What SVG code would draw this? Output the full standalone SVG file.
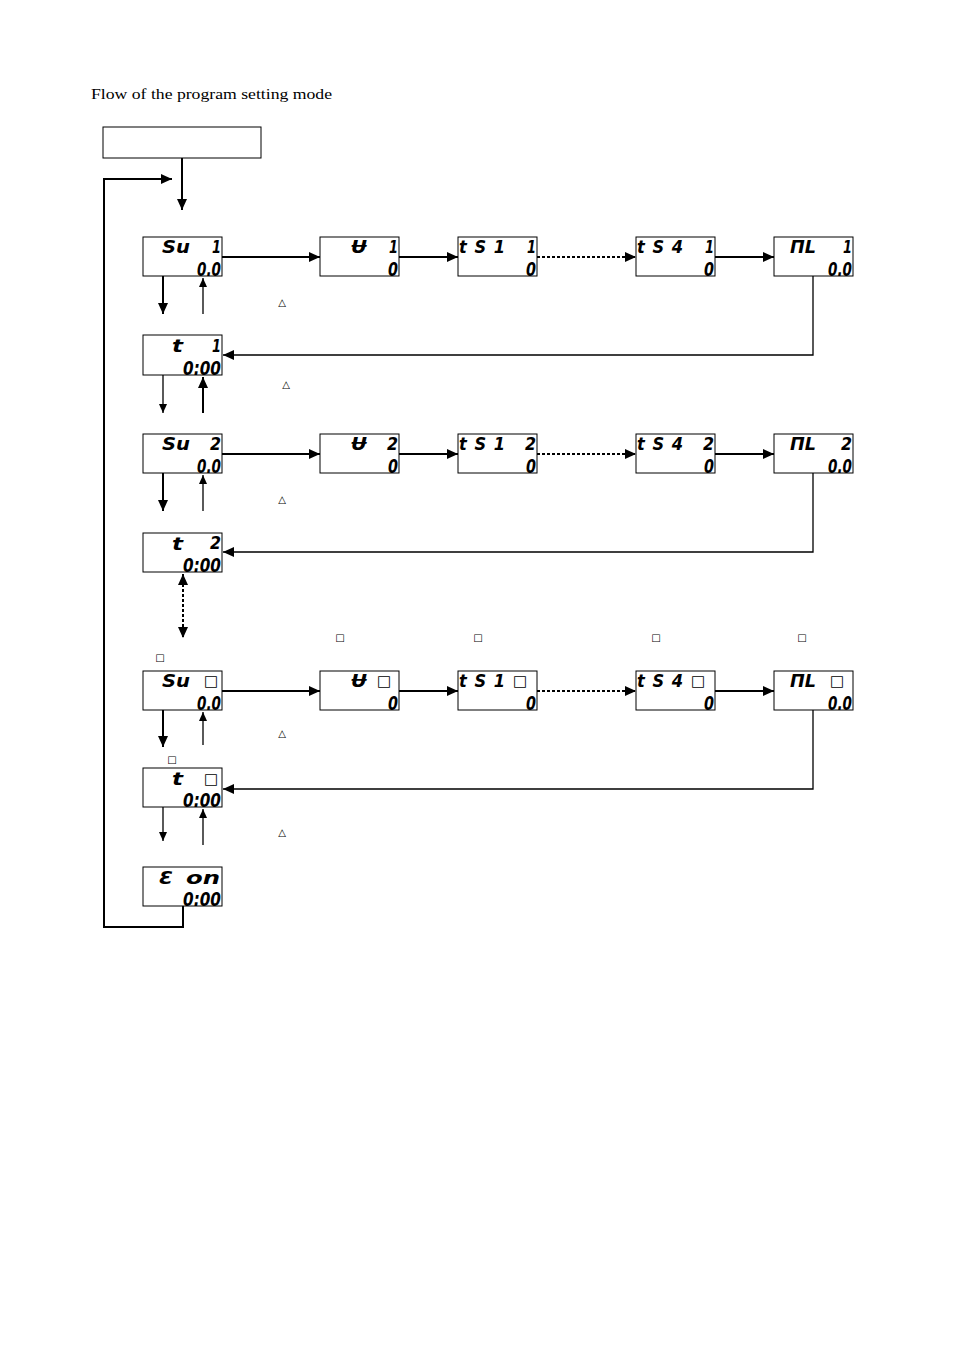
<svg xmlns="http://www.w3.org/2000/svg" width="954" height="1350" viewBox="0 0 954 1350">
<style>
.bx{fill:#fff;stroke:#000;stroke-width:1}
.ln{fill:none;stroke:#000;stroke-width:2}
.thin{fill:none;stroke:#000;stroke-width:1.3}
.dot{fill:none;stroke:#000;stroke-width:2;stroke-dasharray:3 2}
.lcd{font-family:"DejaVu Sans Condensed","DejaVu Sans",sans-serif;font-weight:bold;font-style:oblique;font-size:18px;fill:#000}
.b{font-size:20px}
.sq{font-family:"DejaVu Sans",sans-serif;font-size:15px;font-style:normal;font-weight:normal}
.sym{font-family:"DejaVu Sans",sans-serif;font-size:10px;fill:#000;text-anchor:middle}
.title{font-family:"Liberation Serif",serif;font-size:14px;fill:#000}
</style>
<defs>
<marker id="ah" markerUnits="userSpaceOnUse" markerWidth="12" markerHeight="10" refX="11" refY="5" orient="auto"><path d="M0,0 L11,5 L0,10 Z" fill="#000"/></marker>
<marker id="ahs" markerUnits="userSpaceOnUse" markerWidth="10" markerHeight="8" refX="9" refY="4" orient="auto"><path d="M0,0 L9,4 L0,8 Z" fill="#000"/></marker>
<marker id="ahstart" markerUnits="userSpaceOnUse" markerWidth="12" markerHeight="10" refX="0" refY="5" orient="auto"><path d="M11,0 L0,5 L11,10 Z" fill="#000"/></marker>
</defs>
<rect width="954" height="1350" fill="#fff"/>
<text class="title" x="91" y="99" textLength="241" lengthAdjust="spacingAndGlyphs">Flow of the program setting mode</text>

<g id="connectors">
<line class="ln" x1="182" y1="158" x2="182" y2="210" marker-end="url(#ah)"/>
<polyline class="ln" points="183,906 183,927 104,927 104,179 172,179" marker-end="url(#ah)"/>
<line class="ln" x1="222" y1="257" x2="320" y2="257" marker-end="url(#ah)"/>
<line class="ln" x1="399" y1="257" x2="458" y2="257" marker-end="url(#ah)"/>
<line class="dot" x1="537" y1="257" x2="636" y2="257" marker-end="url(#ah)"/>
<line class="ln" x1="715" y1="257" x2="774" y2="257" marker-end="url(#ah)"/>
<polyline class="thin" points="813,276 813,355 223,355" marker-end="url(#ah)"/>
<line class="ln" x1="163" y1="276" x2="163" y2="314" marker-end="url(#ah)"/>
<line class="thin" x1="203" y1="314" x2="203" y2="278" marker-end="url(#ahs)"/>
<line class="thin" x1="163" y1="375" x2="163" y2="413" marker-end="url(#ahs)"/>
<line class="ln" x1="203" y1="413" x2="203" y2="377" marker-end="url(#ah)"/>
<line class="ln" x1="222" y1="454" x2="320" y2="454" marker-end="url(#ah)"/>
<line class="ln" x1="399" y1="454" x2="458" y2="454" marker-end="url(#ah)"/>
<line class="dot" x1="537" y1="454" x2="636" y2="454" marker-end="url(#ah)"/>
<line class="ln" x1="715" y1="454" x2="774" y2="454" marker-end="url(#ah)"/>
<polyline class="thin" points="813,473 813,552 223,552" marker-end="url(#ah)"/>
<line class="ln" x1="163" y1="473" x2="163" y2="511" marker-end="url(#ah)"/>
<line class="thin" x1="203" y1="511" x2="203" y2="475" marker-end="url(#ahs)"/>
<line class="dot" x1="183" y1="574" x2="183" y2="638" marker-start="url(#ahstart)" marker-end="url(#ah)"/>
<line class="ln" x1="222" y1="691" x2="320" y2="691" marker-end="url(#ah)"/>
<line class="ln" x1="399" y1="691" x2="458" y2="691" marker-end="url(#ah)"/>
<line class="dot" x1="537" y1="691" x2="636" y2="691" marker-end="url(#ah)"/>
<line class="ln" x1="715" y1="691" x2="774" y2="691" marker-end="url(#ah)"/>
<polyline class="thin" points="813,710 813,789 223,789" marker-end="url(#ah)"/>
<line class="ln" x1="163" y1="710" x2="163" y2="747" marker-end="url(#ah)"/>
<line class="thin" x1="203" y1="745" x2="203" y2="712" marker-end="url(#ahs)"/>
<line class="thin" x1="163" y1="807" x2="163" y2="841" marker-end="url(#ahs)"/>
<line class="thin" x1="203" y1="845" x2="203" y2="809" marker-end="url(#ahs)"/>
</g>

<g id="labels">
<text class="sym" x="282" y="306">△</text>
<text class="sym" x="286" y="388">△</text>
<text class="sym" x="282" y="503">△</text>
<text class="sym" x="282" y="737">△</text>
<text class="sym" x="282" y="836">△</text>
<text class="sym" x="340" y="641">□</text>
<text class="sym" x="478" y="641">□</text>
<text class="sym" x="656" y="641">□</text>
<text class="sym" x="802" y="641">□</text>
<text class="sym" x="160" y="661">□</text>
<text class="sym" x="172" y="763">□</text>
</g>

<g id="start"><rect class="bx" x="103" y="127" width="158" height="31"/></g>

<g id="sv1"><rect class="bx" x="143" y="237" width="79" height="39"/>
<text class="lcd"><tspan x="162" y="253" textLength="28" lengthAdjust="spacingAndGlyphs">Su</tspan><tspan x="212" y="253" textLength="9" lengthAdjust="spacingAndGlyphs">1</tspan><tspan class="b" x="197" y="276" textLength="24" lengthAdjust="spacingAndGlyphs">0.0</tspan></text></g>
<g id="a1"><rect class="bx" x="320" y="237" width="79" height="39"/>
<text class="lcd"><tspan x="351" y="253" textLength="16" lengthAdjust="spacingAndGlyphs">Ʉ</tspan><tspan x="389" y="253" textLength="9" lengthAdjust="spacingAndGlyphs">1</tspan><tspan class="b" x="388" y="276" textLength="10" lengthAdjust="spacingAndGlyphs">0</tspan></text></g>
<g id="ts1_1"><rect class="bx" x="458" y="237" width="79" height="39"/>
<text class="lcd"><tspan x="459" y="253" textLength="46" lengthAdjust="spacing">tS1</tspan><tspan x="527" y="253" textLength="9" lengthAdjust="spacingAndGlyphs">1</tspan><tspan class="b" x="526" y="276" textLength="10" lengthAdjust="spacingAndGlyphs">0</tspan></text></g>
<g id="ts4_1"><rect class="bx" x="636" y="237" width="79" height="39"/>
<text class="lcd"><tspan x="637" y="253" textLength="46" lengthAdjust="spacing">tS4</tspan><tspan x="705" y="253" textLength="9" lengthAdjust="spacingAndGlyphs">1</tspan><tspan class="b" x="704" y="276" textLength="10" lengthAdjust="spacingAndGlyphs">0</tspan></text></g>
<g id="ml1"><rect class="bx" x="774" y="237" width="79" height="39"/>
<text class="lcd"><tspan x="790" y="253" textLength="26" lengthAdjust="spacingAndGlyphs">ΠL</tspan><tspan x="843" y="253" textLength="9" lengthAdjust="spacingAndGlyphs">1</tspan><tspan class="b" x="828" y="276" textLength="24" lengthAdjust="spacingAndGlyphs">0.0</tspan></text></g>
<g id="t1"><rect class="bx" x="143" y="335" width="79" height="40"/>
<text class="lcd"><tspan x="172" y="352" textLength="11" lengthAdjust="spacingAndGlyphs">t</tspan><tspan x="212" y="352" textLength="9" lengthAdjust="spacingAndGlyphs">1</tspan><tspan class="b" x="183" y="375" textLength="38" lengthAdjust="spacingAndGlyphs">0:00</tspan></text></g>

<g id="sv2"><rect class="bx" x="143" y="434" width="79" height="39"/>
<text class="lcd"><tspan x="162" y="450" textLength="28" lengthAdjust="spacingAndGlyphs">Su</tspan><tspan x="210" y="450" textLength="11" lengthAdjust="spacingAndGlyphs">2</tspan><tspan class="b" x="197" y="473" textLength="24" lengthAdjust="spacingAndGlyphs">0.0</tspan></text></g>
<g id="a2"><rect class="bx" x="320" y="434" width="79" height="39"/>
<text class="lcd"><tspan x="351" y="450" textLength="16" lengthAdjust="spacingAndGlyphs">Ʉ</tspan><tspan x="387" y="450" textLength="11" lengthAdjust="spacingAndGlyphs">2</tspan><tspan class="b" x="388" y="473" textLength="10" lengthAdjust="spacingAndGlyphs">0</tspan></text></g>
<g id="ts1_2"><rect class="bx" x="458" y="434" width="79" height="39"/>
<text class="lcd"><tspan x="459" y="450" textLength="46" lengthAdjust="spacing">tS1</tspan><tspan x="525" y="450" textLength="11" lengthAdjust="spacingAndGlyphs">2</tspan><tspan class="b" x="526" y="473" textLength="10" lengthAdjust="spacingAndGlyphs">0</tspan></text></g>
<g id="ts4_2"><rect class="bx" x="636" y="434" width="79" height="39"/>
<text class="lcd"><tspan x="637" y="450" textLength="46" lengthAdjust="spacing">tS4</tspan><tspan x="703" y="450" textLength="11" lengthAdjust="spacingAndGlyphs">2</tspan><tspan class="b" x="704" y="473" textLength="10" lengthAdjust="spacingAndGlyphs">0</tspan></text></g>
<g id="ml2"><rect class="bx" x="774" y="434" width="79" height="39"/>
<text class="lcd"><tspan x="790" y="450" textLength="26" lengthAdjust="spacingAndGlyphs">ΠL</tspan><tspan x="841" y="450" textLength="11" lengthAdjust="spacingAndGlyphs">2</tspan><tspan class="b" x="828" y="473" textLength="24" lengthAdjust="spacingAndGlyphs">0.0</tspan></text></g>
<g id="t2"><rect class="bx" x="143" y="533" width="79" height="39"/>
<text class="lcd"><tspan x="172" y="550" textLength="11" lengthAdjust="spacingAndGlyphs">t</tspan><tspan x="210" y="549" textLength="11" lengthAdjust="spacingAndGlyphs">2</tspan><tspan class="b" x="183" y="572" textLength="38" lengthAdjust="spacingAndGlyphs">0:00</tspan></text></g>

<g id="svn"><rect class="bx" x="143" y="671" width="79" height="39"/>
<text class="lcd"><tspan x="162" y="687" textLength="28" lengthAdjust="spacingAndGlyphs">Su</tspan><tspan class="sq" x="204" y="686">□</tspan><tspan class="b" x="197" y="710" textLength="24" lengthAdjust="spacingAndGlyphs">0.0</tspan></text></g>
<g id="an"><rect class="bx" x="320" y="671" width="79" height="39"/>
<text class="lcd"><tspan x="351" y="687" textLength="16" lengthAdjust="spacingAndGlyphs">Ʉ</tspan><tspan class="sq" x="377" y="686">□</tspan><tspan class="b" x="388" y="710" textLength="10" lengthAdjust="spacingAndGlyphs">0</tspan></text></g>
<g id="ts1_n"><rect class="bx" x="458" y="671" width="79" height="39"/>
<text class="lcd"><tspan x="459" y="687" textLength="46" lengthAdjust="spacing">tS1</tspan><tspan class="sq" x="513" y="686">□</tspan><tspan class="b" x="526" y="710" textLength="10" lengthAdjust="spacingAndGlyphs">0</tspan></text></g>
<g id="ts4_n"><rect class="bx" x="636" y="671" width="79" height="39"/>
<text class="lcd"><tspan x="637" y="687" textLength="46" lengthAdjust="spacing">tS4</tspan><tspan class="sq" x="691" y="686">□</tspan><tspan class="b" x="704" y="710" textLength="10" lengthAdjust="spacingAndGlyphs">0</tspan></text></g>
<g id="mln"><rect class="bx" x="774" y="671" width="79" height="39"/>
<text class="lcd"><tspan x="790" y="687" textLength="26" lengthAdjust="spacingAndGlyphs">ΠL</tspan><tspan class="sq" x="830" y="686">□</tspan><tspan class="b" x="828" y="710" textLength="24" lengthAdjust="spacingAndGlyphs">0.0</tspan></text></g>
<g id="tn"><rect class="bx" x="143" y="768" width="79" height="39"/>
<text class="lcd"><tspan x="172" y="785" textLength="11" lengthAdjust="spacingAndGlyphs">t</tspan><tspan class="sq" x="204" y="784">□</tspan><tspan class="b" x="183" y="807" textLength="38" lengthAdjust="spacingAndGlyphs">0:00</tspan></text></g>

<g id="end"><rect class="bx" x="143" y="867" width="79" height="39"/>
<text class="lcd"><tspan x="159" y="884" textLength="14" lengthAdjust="spacingAndGlyphs">Ɛ</tspan><tspan x="186" y="884" textLength="34" lengthAdjust="spacingAndGlyphs">on</tspan><tspan class="b" x="183" y="906" textLength="38" lengthAdjust="spacingAndGlyphs">0:00</tspan></text></g>
</svg>
